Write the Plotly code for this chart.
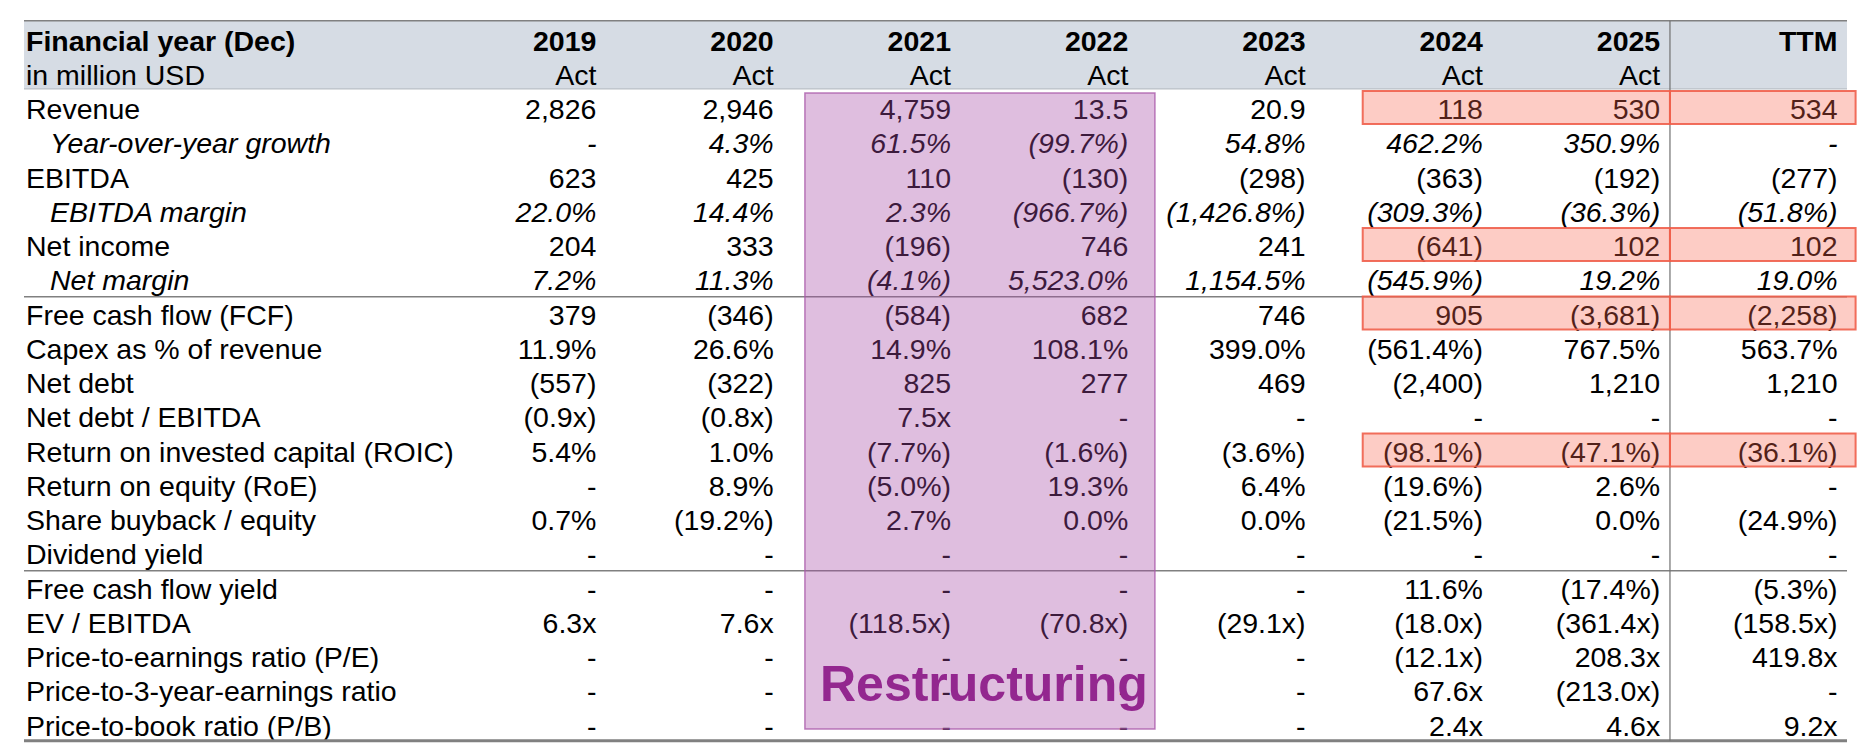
import plotly.graph_objects as go

# table content
columns = ["2019", "2020", "2021", "2022", "2023", "2024", "2025", "TTM"]
column_status = ["Act", "Act", "Act", "Act", "Act", "Act", "Act", ""]

row_labels = [
    "Revenue", "Year-over-year growth", "EBITDA", "EBITDA margin",
    "Net income", "Net margin", "Free cash flow (FCF)", "Capex as % of revenue",
    "Net debt", "Net debt / EBITDA", "Return on invested capital (ROIC)",
    "Return on equity (RoE)", "Share buyback / equity", "Dividend yield",
    "Free cash flow yield", "EV / EBITDA", "Price-to-earnings ratio (P/E)",
    "Price-to-3-year-earnings ratio", "Price-to-book ratio (P/B)",
]
italic_rows = ["Year-over-year growth", "EBITDA margin", "Net margin"]

v2019 = ["2,826", "-", "623", "22.0%", "204", "7.2%", "379", "11.9%", "(557)", "(0.9x)",
         "5.4%", "-", "0.7%", "-", "-", "6.3x", "-", "-", "-"]
v2020 = ["2,946", "4.3%", "425", "14.4%", "333", "11.3%", "(346)", "26.6%", "(322)", "(0.8x)",
         "1.0%", "8.9%", "(19.2%)", "-", "-", "7.6x", "-", "-", "-"]
v2021 = ["4,759", "61.5%", "110", "2.3%", "(196)", "(4.1%)", "(584)", "14.9%", "825", "7.5x",
         "(7.7%)", "(5.0%)", "2.7%", "-", "-", "(118.5x)", "-", "-", "-"]
v2022 = ["13.5", "(99.7%)", "(130)", "(966.7%)", "746", "5,523.0%", "682", "108.1%", "277", "-",
         "(1.6%)", "19.3%", "0.0%", "-", "-", "(70.8x)", "-", "-", "-"]
v2023 = ["20.9", "54.8%", "(298)", "(1,426.8%)", "241", "1,154.5%", "746", "399.0%", "469", "-",
         "(3.6%)", "6.4%", "0.0%", "-", "-", "(29.1x)", "-", "-", "-"]
v2024 = ["118", "462.2%", "(363)", "(309.3%)", "(641)", "(545.9%)", "905", "(561.4%)", "(2,400)", "-",
         "(98.1%)", "(19.6%)", "(21.5%)", "-", "11.6%", "(18.0x)", "(12.1x)", "67.6x", "2.4x"]
v2025 = ["530", "350.9%", "(192)", "(36.3%)", "102", "19.2%", "(3,681)", "767.5%", "1,210", "-",
         "(47.1%)", "2.6%", "0.0%", "-", "(17.4%)", "(361.4x)", "208.3x", "(213.0x)", "4.6x"]
vTTM = ["534", "-", "(277)", "(51.8%)", "102", "19.0%", "(2,258)", "563.7%", "1,210", "-",
        "(36.1%)", "-", "(24.9%)", "-", "(5.3%)", "(158.5x)", "419.8x", "-", "9.2x"]
column_values = [v2019, v2020, v2021, v2022, v2023, v2024, v2025, vTTM]

highlight_rows = ["Revenue", "Net income", "Free cash flow (FCF)", "Return on invested capital (ROIC)"]
highlight_cols = [["2024", "2025"], ["TTM"]]
restructuring_cols = ["2021", "2022"]
section_breaks = ["Net margin", "Dividend yield"]

# the page body has an 8px margin, so the figure is shrunk by that much
PAGE_PAD = 8
W, H = 1866 - PAGE_PAD, 752 - PAGE_PAD
COL_PX, FIRST_RIGHT = 177.3, 595 - PAGE_PAD   # column pitch, right edge of first column (px)
ROW_PX, FIRST_ROW = 34.25, 41 - PAGE_PAD      # row pitch, centre of the header row (px)
TEXT_DY = 0.07                                # plotly sits "middle" text a little high
FONT = "Liberation Sans, Arial, sans-serif"
GRID = "#808080"


def px(p):
    # screen x pixel -> column units
    return (p - PAGE_PAD - FIRST_RIGHT) / COL_PX


n_head = 2
row_y = {lab: n_head + i for i, lab in enumerate(row_labels)}
last_y = n_head + len(row_labels) - 1
col_x = {c: i for i, c in enumerate(columns)}
label_x = px(26)
indent_x = px(50)
left_x = px(24)
right_x = px(1847)
divider_x = col_x["2025"] + 0.063
top_y = -0.593
bottom_y = last_y + 0.43

fig = go.Figure()

# row labels
plain = [lab for lab in row_labels if lab not in italic_rows]
fig.add_trace(go.Scatter(
    x=[label_x] * (len(plain) + 2), y=[r + TEXT_DY for r in [0, 1] + [row_y[l] for l in plain]],
    text=["<b>Financial year (Dec)</b>", "in million USD"] + plain,
    mode="text", textposition="middle right", hoverinfo="skip",
    textfont=dict(family=FONT, size=28.5, color="black")))
fig.add_trace(go.Scatter(
    x=[indent_x] * len(italic_rows), y=[row_y[l] + TEXT_DY for l in italic_rows],
    text=["<i>%s</i>" % l for l in italic_rows],
    mode="text", textposition="middle right", hoverinfo="skip",
    textfont=dict(family=FONT, size=28.5, color="black")))

# value columns
for c, status, vals in zip(columns, column_status, column_values):
    txt = ["<b>%s</b>" % c, status]
    for lab, v in zip(row_labels, vals):
        txt.append("<i>%s</i>" % v if lab in italic_rows else v)
    fig.add_trace(go.Scatter(
        x=[col_x[c] + 0.008] * len(txt), y=[r + TEXT_DY for r in range(len(txt))], text=txt,
        mode="text", textposition="middle left", hoverinfo="skip",
        textfont=dict(family=FONT, size=28.5, color="black")))

shapes = []
# header band and rules
shapes.append(dict(type="rect", xref="x", yref="y", x0=left_x, x1=right_x, y0=top_y, y1=1.4,
                   fillcolor="#D6DCE4", line_width=0, layer="below"))
shapes.append(dict(type="line", xref="x", yref="y", x0=left_x, x1=right_x, y0=top_y, y1=top_y,
                   line=dict(color=GRID, width=1.5)))
shapes.append(dict(type="line", xref="x", yref="y", x0=left_x, x1=right_x, y0=1.4, y1=1.4,
                   line=dict(color="#B0B6BE", width=1)))
for lab in section_breaks:
    yb = row_y[lab] + 0.47
    shapes.append(dict(type="line", xref="x", yref="y", x0=left_x, x1=right_x, y0=yb, y1=yb,
                       line=dict(color=GRID, width=1.5)))
shapes.append(dict(type="line", xref="x", yref="y", x0=left_x, x1=right_x, y0=bottom_y, y1=bottom_y,
                   line=dict(color=GRID, width=3)))
shapes.append(dict(type="line", xref="x", yref="y", x0=divider_x, x1=divider_x, y0=top_y, y1=bottom_y,
                   line=dict(color="#707070", width=1.2)))

# red highlight boxes, drawn over the text
for lab in highlight_rows:
    for group in highlight_cols:
        x0 = col_x[group[0]] - 0.67 if group[0] != "TTM" else divider_x
        x1 = divider_x if group[-1] != "TTM" else col_x["TTM"] + 0.11
        shapes.append(dict(type="rect", xref="x", yref="y", x0=x0, x1=x1,
                           y0=row_y[lab] - 0.54, y1=row_y[lab] + 0.42,
                           fillcolor="rgba(250,100,80,0.33)",
                           line=dict(color="rgba(240,95,75,0.9)", width=2), layer="above"))

# restructuring box
rx0 = col_x[restructuring_cols[0]] - 0.816
rx1 = col_x[restructuring_cols[-1]] + 0.158
shapes.append(dict(type="rect", xref="x", yref="y", x0=rx0, x1=rx1,
                   y0=row_y["Revenue"] - 0.48, y1=last_y + 0.09,
                   fillcolor="rgba(167,75,167,0.36)",
                   line=dict(color="rgba(170,90,170,0.8)", width=1.5), layer="above"))

fig.add_annotation(x=(rx0 + rx1) / 2 + 0.025, y=last_y - 1.22, xref="x", yref="y",
                   text="<b>Restructuring</b>", showarrow=False,
                   font=dict(family=FONT, size=50, color="#93278F"))

fig.update_layout(
    width=W, height=H, margin=dict(l=0, r=0, t=0, b=0),
    paper_bgcolor="white", plot_bgcolor="white", showlegend=False,
    shapes=shapes,
    xaxis=dict(range=[-FIRST_RIGHT / COL_PX, (W - FIRST_RIGHT) / COL_PX],
               visible=False, fixedrange=True),
    yaxis=dict(range=[(H - FIRST_ROW) / ROW_PX, -FIRST_ROW / ROW_PX],
               visible=False, fixedrange=True),
)

fig.write_html("out.html")
